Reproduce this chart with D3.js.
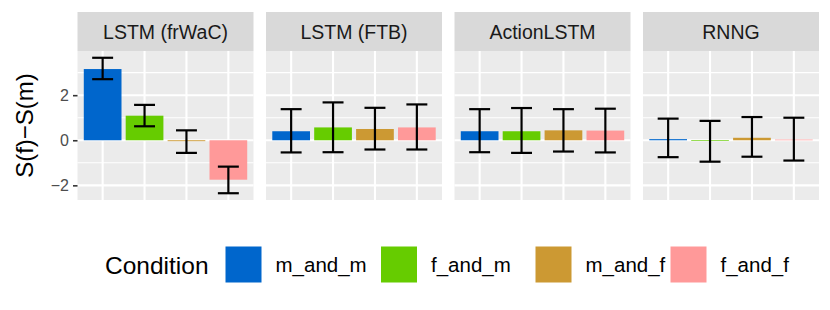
<!DOCTYPE html>
<html>
<head>
<meta charset="utf-8">
<script src="https://cdn.jsdelivr.net/npm/d3@7"></script>
<style>
  body { margin: 0; background: #fff; }
  svg { display: block; font-family: "Liberation Sans", Arial, sans-serif; }
</style>
</head>
<body>
<svg width="830" height="310"></svg>
<script>
// DATA
var models = ["LSTM (frWaC)", "LSTM (FTB)", "ActionLSTM", "RNNG"];
var conditions = ["m_and_m", "f_and_m", "m_and_f", "f_and_f"];
var colors = ["#0066CC", "#66CC00", "#CC9933", "#FF9999"];

// mean difference per model, one value per condition
var means = [
    [3.16, 1.09, -0.04, -1.75],
    [0.40, 0.57, 0.50, 0.57],
    [0.40, 0.40, 0.44, 0.43],
    [0.05, -0.03, 0.11, 0.03]
];
var lower = [
    [2.71, 0.62, -0.56, -2.35],
    [-0.54, -0.53, -0.41, -0.41],
    [-0.53, -0.56, -0.50, -0.54],
    [-0.75, -0.95, -0.73, -0.90]
];
var upper = [
    [3.66, 1.57, 0.44, -1.17],
    [1.38, 1.68, 1.44, 1.59],
    [1.38, 1.43, 1.38, 1.40],
    [0.96, 0.86, 1.03, 1.00]
];
var yTicks = [-2, 0, 2];
var yMinor = [-1, 1, 3];

var svg = d3.select("svg");

var left = 77.5,
    panelW = 176,
    gap = 12.5,
    stripTop = 12,
    panelTop = 51,
    panelBottom = 200;

// y scale with ggplot-like 5% expansion
var lo = d3.min(lower, function (r) { return d3.min(r); }),
    hi = d3.max(upper, function (r) { return d3.max(r); }),
    pad = (hi - lo) * 0.05;
var yScale = d3.scaleLinear().domain([lo - pad, hi + pad]).range([panelBottom, panelTop]);

var xScale = d3.scalePoint().domain(conditions).range([0, panelW]).padding(0.6);
var unit = xScale.step();

var rows = [];
models.forEach(function (m, i) {
    conditions.forEach(function (c, j) {
        rows.push({ model: m, cond: c, mean: means[i][j], lo: lower[i][j], hi: upper[i][j], color: colors[j] });
    });
});

var panels = svg.selectAll(".panel")
    .data(models)
    .enter().append("g")
    .attr("class", "panel")
    .attr("transform", function (d, i) { return "translate(" + (left + i * (panelW + gap)) + ",0)"; });

// strip
panels.append("rect")
    .attr("x", 0).attr("y", stripTop)
    .attr("width", panelW).attr("height", panelTop - stripTop)
    .attr("fill", "#D9D9D9");
panels.append("text")
    .attr("x", panelW / 2).attr("y", (stripTop + panelTop) / 2)
    .attr("dy", "0.36em")
    .attr("text-anchor", "middle")
    .attr("font-size", "19.5px")
    .attr("fill", "#1A1A1A")
    .text(function (d) { return d; });

// panel background + grid
panels.append("rect")
    .attr("x", 0).attr("y", panelTop)
    .attr("width", panelW).attr("height", panelBottom - panelTop)
    .attr("fill", "#EBEBEB");

panels.selectAll(".minor")
    .data(yMinor)
    .enter().append("line")
    .attr("x1", 0).attr("x2", panelW)
    .attr("y1", function (d) { return yScale(d); })
    .attr("y2", function (d) { return yScale(d); })
    .attr("stroke", "#fff").attr("stroke-width", 1.1);

panels.selectAll(".major")
    .data(yTicks)
    .enter().append("line")
    .attr("x1", 0).attr("x2", panelW)
    .attr("y1", function (d) { return yScale(d); })
    .attr("y2", function (d) { return yScale(d); })
    .attr("stroke", "#fff").attr("stroke-width", 2.1);

panels.selectAll(".vmajor")
    .data(conditions)
    .enter().append("line")
    .attr("x1", function (d) { return xScale(d); })
    .attr("x2", function (d) { return xScale(d); })
    .attr("y1", panelTop).attr("y2", panelBottom)
    .attr("stroke", "#fff").attr("stroke-width", 2.1);

// bars
panels.selectAll(".bar")
    .data(function (m) { return rows.filter(function (r) { return r.model === m; }); })
    .enter().append("rect")
    .attr("class", "bar")
    .attr("x", function (d) { return xScale(d.cond) - unit * 0.45; })
    .attr("width", unit * 0.9)
    .attr("y", function (d) { return Math.min(yScale(d.mean), yScale(0)); })
    .attr("height", function (d) { return Math.abs(yScale(d.mean) - yScale(0)); })
    .attr("fill", function (d) { return d.color; });

// error bars
var eb = panels.selectAll(".err")
    .data(function (m) { return rows.filter(function (r) { return r.model === m; }); })
    .enter().append("g")
    .attr("class", "err")
    .attr("stroke", "#000")
    .attr("stroke-width", 2.2);
eb.append("line")
    .attr("x1", function (d) { return xScale(d.cond); })
    .attr("x2", function (d) { return xScale(d.cond); })
    .attr("y1", function (d) { return yScale(d.lo); })
    .attr("y2", function (d) { return yScale(d.hi); });
eb.append("line")
    .attr("x1", function (d) { return xScale(d.cond) - unit * 0.25; })
    .attr("x2", function (d) { return xScale(d.cond) + unit * 0.25; })
    .attr("y1", function (d) { return yScale(d.lo); })
    .attr("y2", function (d) { return yScale(d.lo); });
eb.append("line")
    .attr("x1", function (d) { return xScale(d.cond) - unit * 0.25; })
    .attr("x2", function (d) { return xScale(d.cond) + unit * 0.25; })
    .attr("y1", function (d) { return yScale(d.hi); })
    .attr("y2", function (d) { return yScale(d.hi); });

// y axis
var yAxis = svg.append("g")
    .attr("transform", "translate(" + left + ",0)")
    .call(d3.axisLeft(yScale).tickValues(yTicks).tickSize(4.5).tickPadding(4)
        .tickFormat(function (d) { return d < 0 ? "\u2212" + Math.abs(d) : d; }));
yAxis.select(".domain").remove();
yAxis.selectAll(".tick line").attr("stroke", "#333").attr("stroke-width", 1.6);
yAxis.selectAll(".tick text")
    .attr("fill", "#4D4D4D")
    .attr("font-size", "16px")
    .attr("font-family", "'Liberation Sans', Arial, sans-serif");

svg.append("text")
    .attr("transform", "translate(24," + ((panelTop + panelBottom) / 2) + ") rotate(-90)")
    .attr("text-anchor", "middle")
    .attr("dy", "0.36em")
    .attr("font-size", "24px")
    .attr("fill", "#000")
    .text("S(f)\u2212S(m)");

// legend
var legend = svg.append("g");
legend.append("text")
    .attr("x", 105).attr("y", 265)
    .attr("dy", "0.36em")
    .attr("font-size", "24.5px")
    .attr("fill", "#000")
    .text("Condition");

var keyX = [225.5, 381, 535.5, 670.5];
var items = legend.selectAll(".item")
    .data(conditions)
    .enter().append("g")
    .attr("class", "item")
    .attr("transform", function (d, i) { return "translate(" + keyX[i] + ",0)"; });
items.append("rect")
    .attr("x", 0).attr("y", 246.5)
    .attr("width", 36).attr("height", 36)
    .attr("fill", function (d, i) { return colors[i]; });
items.append("text")
    .attr("x", 50).attr("y", 265)
    .attr("dy", "0.36em")
    .attr("font-size", "20.5px")
    .attr("fill", "#000")
    .text(function (d) { return d; });
</script>
</body>
</html>
